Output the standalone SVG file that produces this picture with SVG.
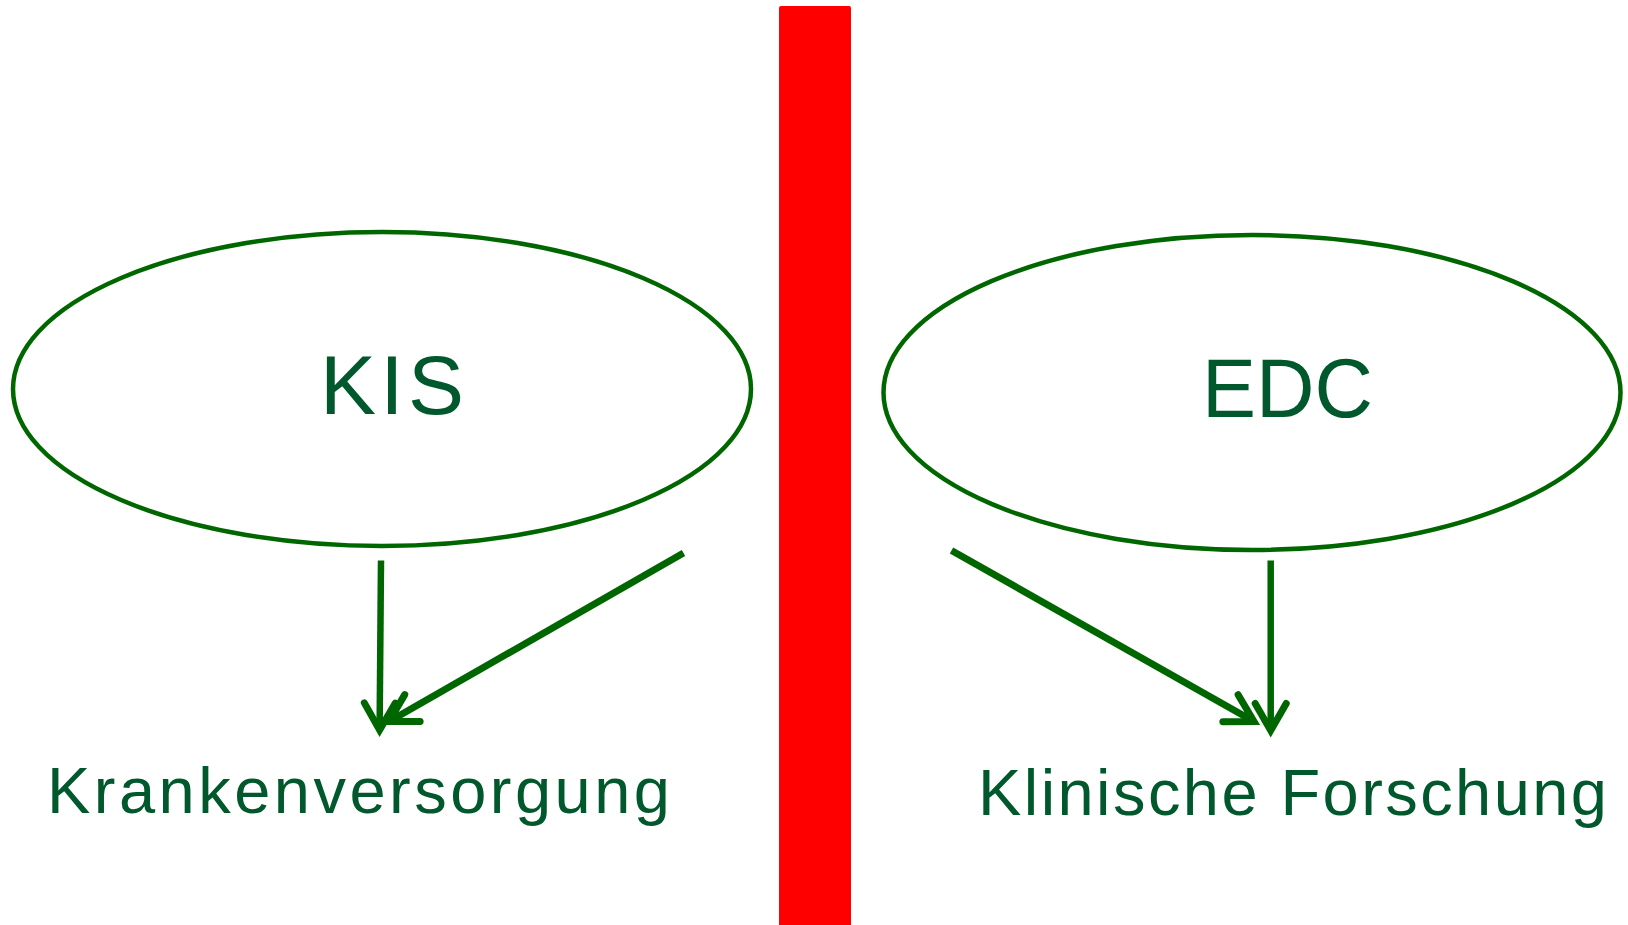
<svg xmlns="http://www.w3.org/2000/svg" width="1628" height="925" viewBox="0 0 1628 925">
<style>
.node-shape{fill:none;stroke:#006600;stroke-width:4.5}
.title{font-family:"Liberation Sans",Arial,sans-serif;font-size:84px;fill:#00582c}
.label{font-family:"Liberation Sans",Arial,sans-serif;font-size:65px;fill:#00582c}
.conn{fill:none;stroke:#006600;stroke-linecap:butt}
</style>
<defs>
<marker id="arr" markerUnits="userSpaceOnUse" orient="auto" overflow="visible" markerWidth="1" markerHeight="1" refX="0" refY="0">
<path d="M-27,-15.5 L0,0 L-27,15.5" fill="none" stroke="#006600" stroke-width="7" stroke-linecap="round" stroke-linejoin="miter"/>
</marker>
</defs>
<rect width="1628" height="925" fill="#ffffff"/>
<g id="divider">
<rect x="779" y="6" width="72" height="925" rx="2" fill="#ff0000"/>
</g>
<g id="node-kis">
<ellipse class="node-shape" cx="382" cy="389" rx="369" ry="157"/>
<text class="title" x="320" y="414" textLength="144" lengthAdjust="spacing">KIS</text>
</g>
<g id="node-edc">
<ellipse class="node-shape" cx="1252" cy="392.5" rx="368.5" ry="157.5"/>
<text class="title" x="1202" y="417" textLength="171" lengthAdjust="spacingAndGlyphs">EDC</text>
</g>
<g id="node-krankenversorgung">
<text class="label" x="47" y="813" textLength="623" lengthAdjust="spacing">Krankenversorgung</text>
</g>
<g id="node-klinische-forschung">
<text class="label" x="978" y="815" textLength="629" lengthAdjust="spacing">Klinische Forschung</text>
</g>
<g id="connectors">
<line class="conn" x1="381" y1="560.5" x2="379.6" y2="730" stroke-width="6.5" marker-end="url(#arr)"/>
<line class="conn" x1="683.5" y1="553" x2="389" y2="721.5" stroke-width="7" marker-end="url(#arr)"/>
<line class="conn" x1="951.5" y1="550.5" x2="1254" y2="721.5" stroke-width="7" marker-end="url(#arr)"/>
<line class="conn" x1="1270.7" y1="560.5" x2="1270.7" y2="730.5" stroke-width="6.5" marker-end="url(#arr)"/>
</g>
</svg>
